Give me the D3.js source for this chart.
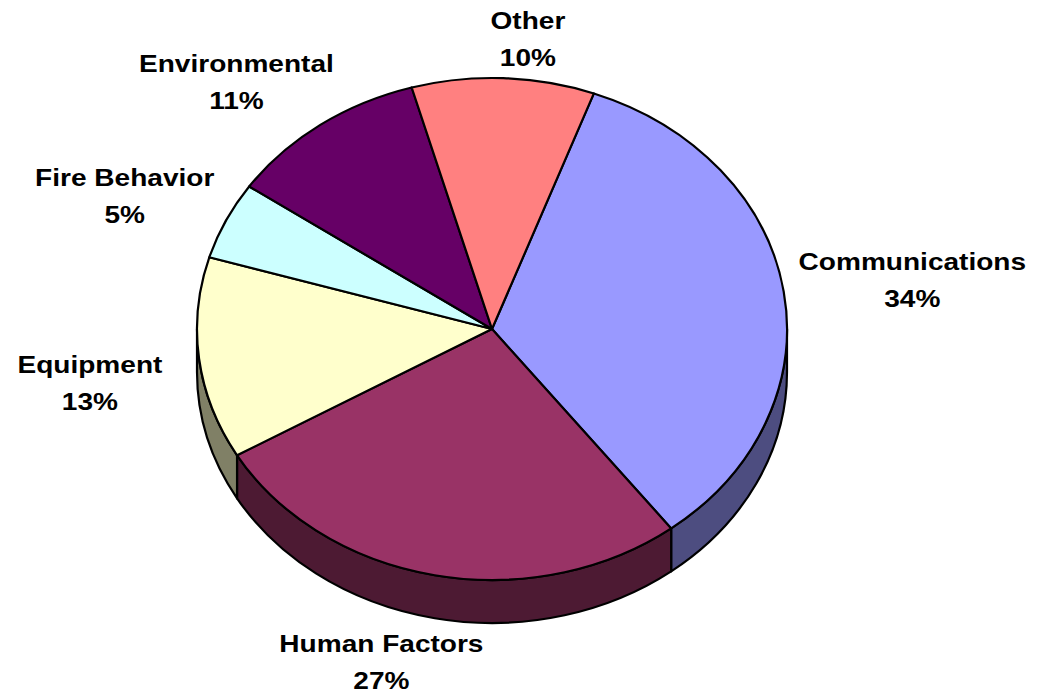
<!DOCTYPE html>
<html>
<head>
<meta charset="utf-8">
<script src="https://cdn.jsdelivr.net/npm/d3@7"></script>
<style>
  html, body { margin: 0; padding: 0; background: #ffffff; }
  svg { display: block; }
  text { font-family: "Liberation Sans", Arial, sans-serif; font-weight: bold; fill: #000; }
</style>
</head>
<body>
<svg id="chart" width="1037" height="694"></svg>
<script>
// ---- data ----
const categories = ["Communications", "Human Factors", "Equipment", "Fire Behavior", "Environmental", "Other"];
const values = [34, 27, 13, 5, 11, 10];
const topColors = ["#9999FF", "#993366", "#FFFFCC", "#CCFFFF", "#660066", "#FF8080"];
const sideColors = ["#4D4D80", "#4D1A33", "#808066", "#668080", "#330033", "#804040"];

// ---- layout ----
const W = 1037, H = 694;
const cx = 492, cy = 329, rx = 295, ry = 251, depth = 43;
const startDeg = 20.2;
const labelRx = 415, labelRy = 290;
const labelNudge = [[10, 3], [-30, 14], [10, -14.5], [7, 0.5], [-14, -3], [20, 8]];
const fontSize = 23, stretchX = 1.22, lineGap = 37;

const svg = d3.select("#chart");

const a0 = startDeg * Math.PI / 180;
const pie = d3.pie().sort(null).value(d => d.value).startAngle(a0).endAngle(a0 + 2 * Math.PI);
const data = categories.map((c, i) => ({ name: c, value: values[i], i }));
const arcs = pie(data);

// angle: clockwise from top
const px = (t, r = rx) => cx + r * Math.sin(t);
const py = (t, r = ry, dy = 0) => cy - r * Math.cos(t) + dy;

// ---- sides (front half: angles between PI/2 and 3PI/2) ----
const sideG = svg.append("g");
arcs.forEach(a => {
  const s = Math.max(a.startAngle, Math.PI / 2);
  const e = Math.min(a.endAngle, 3 * Math.PI / 2);
  if (e <= s) return;
  const large = (e - s) > Math.PI ? 1 : 0;
  const d = `M${px(s)},${py(s)} A${rx},${ry} 0 ${large} 1 ${px(e)},${py(e)} ` +
            `L${px(e)},${py(e, ry, depth)} A${rx},${ry} 0 ${large} 0 ${px(s)},${py(s, ry, depth)} Z`;
  sideG.append("path")
    .attr("d", d)
    .attr("fill", sideColors[a.data.i])
    .attr("stroke", "#000")
    .attr("stroke-width", 2.2)
    .attr("stroke-linejoin", "round");
});

// ---- top faces ----
const topG = svg.append("g");
arcs.forEach(a => {
  const s = a.startAngle, e = a.endAngle;
  const large = (e - s) > Math.PI ? 1 : 0;
  const d = `M${cx},${cy} L${px(s)},${py(s)} A${rx},${ry} 0 ${large} 1 ${px(e)},${py(e)} Z`;
  topG.append("path")
    .attr("d", d)
    .attr("fill", topColors[a.data.i])
    .attr("stroke", "#000")
    .attr("stroke-width", 2.2)
    .attr("stroke-linejoin", "round");
});

// ---- labels ----
const fmt = d3.format("d");
const labelG = svg.append("g");
arcs.forEach(a => {
  const m = (a.startAngle + a.endAngle) / 2;
  const c = Math.cos(m), s = Math.sin(m);
  const n = labelNudge[a.data.i];
  const lx = cx + labelRx * s + n[0];
  const ly = cy - labelRy * c + (c < 0 ? depth : 0) + n[1];
  const g = labelG.append("g");
  g.append("text")
    .attr("transform", `translate(${lx},${ly - lineGap / 2}) scale(${stretchX},1)`)
    .attr("text-anchor", "middle")
    .attr("font-size", fontSize)
    .text(a.data.name);
  g.append("text")
    .attr("transform", `translate(${lx},${ly + lineGap / 2}) scale(${stretchX},1)`)
    .attr("text-anchor", "middle")
    .attr("font-size", fontSize)
    .text(fmt(a.data.value) + "%");
});
</script>
</body>
</html>
